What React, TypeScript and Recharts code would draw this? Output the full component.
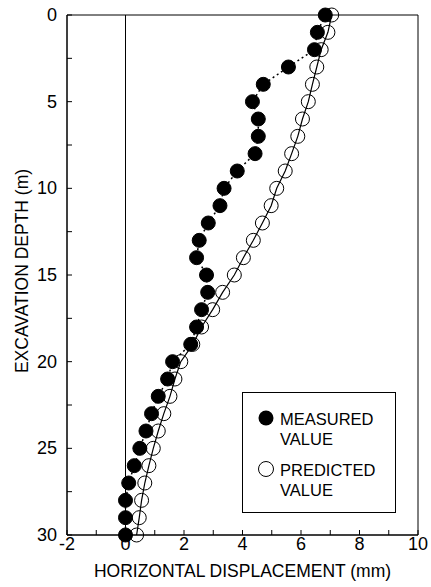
import {
  ComposedChart, Scatter, XAxis, YAxis, ReferenceLine, ReferenceArea, Legend
} from 'recharts'

const depths = [0, 1, 2, 3, 4, 5, 6, 7, 8, 9, 10, 11, 12, 13, 14, 15, 16, 17, 18, 19, 20, 21, 22, 23, 24, 25, 26, 27, 28, 29, 30]
const measured = [6.83, 6.56, 6.46, 5.57, 4.71, 4.34, 4.54, 4.54, 4.43, 3.82, 3.37, 3.23, 2.83, 2.52, 2.43, 2.77, 2.81, 2.6, 2.43, 2.23, 1.61, 1.44, 1.12, 0.89, 0.7, 0.49, 0.3, 0.11, 0, 0, 0]
const predicted = [7.05, 6.92, 6.69, 6.54, 6.39, 6.25, 6.05, 5.89, 5.68, 5.46, 5.17, 4.98, 4.68, 4.37, 4.03, 3.72, 3.32, 2.98, 2.6, 2.3, 1.89, 1.69, 1.52, 1.31, 1.12, 0.95, 0.8, 0.66, 0.55, 0.47, 0.38]

const xTicks = [-2, -1, 0, 1, 2, 3, 4, 5, 6, 7, 8, 9, 10]
const yTicks = [0, 2.5, 5, 7.5, 10, 12.5, 15, 17.5, 20, 22.5, 25, 27.5, 30]

const measuredData = depths.map((d, i) => ({ x: measured[i], depth: d }))
const predictedData = depths.map((d, i) => ({ x: predicted[i], depth: d }))

const FONT = '"Liberation Sans", Arial, Helvetica, sans-serif'

const XTick = ({ x, y, payload }: any) => {
  const v = payload.value
  return (
    <g>
      <line x1={x} y1={y} x2={x} y2={y - 5} stroke="#000" />
      {v % 2 === 0 && (
        <text x={x} y={y + 15} textAnchor="middle" fontSize={18} fontFamily={FONT} fill="#000">
          {v}
        </text>
      )}
    </g>
  )
}

const YTick = ({ x, y, payload }: any) => {
  const v = payload.value
  return (
    <g>
      <line x1={x} y1={y} x2={x + 5} y2={y} stroke="#000" />
      {v % 5 === 0 && (
        <text x={x - 10} y={y + 6} textAnchor="end" fontSize={18} fontFamily={FONT} fill="#000">
          {v}
        </text>
      )}
    </g>
  )
}

const YLabel = ({ viewBox }: any) => {
  const cx = viewBox.x + 22
  const cy = viewBox.y + viewBox.height / 2 - 4
  return (
    <text x={cx} y={cy} transform={`rotate(-90 ${cx} ${cy})`} textAnchor="middle"
      dominantBaseline="central" fontSize={17.5} fontFamily={FONT} fill="#000">
      EXCAVATION DEPTH (m)
    </text>
  )
}

const FilledDot = (props: any) => (
  <circle cx={props.cx} cy={props.cy} r={7} fill="#000" stroke="#000" />
)

const OpenDot = (props: any) => (
  <circle cx={props.cx} cy={props.cy} r={7} fill="none" stroke="#000" strokeWidth={1} />
)

const LegendBox = () => (
  <div style={{ width: 154, height: 121, border: '1px solid #000', boxSizing: 'border-box', background: '#fff' }}>
    <svg width={152} height={119} style={{ display: 'block' }}>
      <circle cx={23} cy={25} r={7.5} fill="#000" />
      <text x={37} y={32} fontSize={16.5} fontFamily={FONT} fill="#000">MEASURED</text>
      <text x={37} y={52} fontSize={16.5} fontFamily={FONT} fill="#000">VALUE</text>
      <circle cx={23} cy={76} r={7.5} fill="none" stroke="#000" />
      <text x={37} y={83} fontSize={16.5} fontFamily={FONT} fill="#000">PREDICTED</text>
      <text x={37} y={103} fontSize={16.5} fontFamily={FONT} fill="#000">VALUE</text>
    </svg>
  </div>
)

export default function App() {
  return (
    <div style={{ position: 'absolute', left: 0, top: 0, background: '#fff' }}>
      <ComposedChart width={431} height={587} margin={{ top: 15, right: 13, left: 0, bottom: 0 }}>
        <XAxis
          type="number"
          dataKey="x"
          domain={[-2, 10]}
          ticks={xTicks}
          interval={0}
          allowDataOverflow
          height={52}
          axisLine={{ stroke: '#000' }}
          tickLine={false}
          tickSize={0}
          tickMargin={0}
          tick={<XTick />}
          label={{ value: 'HORIZONTAL DISPLACEMENT (mm)', position: 'insideBottom', offset: 10, fontSize: 17.5, fontFamily: FONT, fill: '#000' }}
        />
        <YAxis
          type="number"
          dataKey="depth"
          domain={[0, 30]}
          reversed
          ticks={yTicks}
          interval={0}
          width={67}
          axisLine={{ stroke: '#000' }}
          tickLine={false}
          tickSize={0}
          tickMargin={0}
          tick={<YTick />}
          label={<YLabel />}
        />
        <ReferenceArea x1={-2} x2={10} y1={0} y2={30} fill="none" stroke="#000" ifOverflow="visible" />
        <ReferenceLine x={0} stroke="#000" />
        <Legend
          layout="vertical"
          align="center"
          verticalAlign="middle"
          wrapperStyle={{ position: 'absolute', left: 242, top: 392, width: 154, height: 121 }}
          content={<LegendBox />}
        />
        <Scatter
          name="PREDICTED VALUE"
          data={predictedData}
          line={{ stroke: '#000', strokeWidth: 1.2 }}
          lineType="joint"
          shape={<OpenDot />}
          isAnimationActive={false}
        />
        <Scatter
          name="MEASURED VALUE"
          data={measuredData}
          line={{ stroke: '#000', strokeWidth: 1.5, strokeDasharray: '2 3' }}
          lineType="joint"
          shape={<FilledDot />}
          isAnimationActive={false}
        />
      </ComposedChart>
    </div>
  )
}
